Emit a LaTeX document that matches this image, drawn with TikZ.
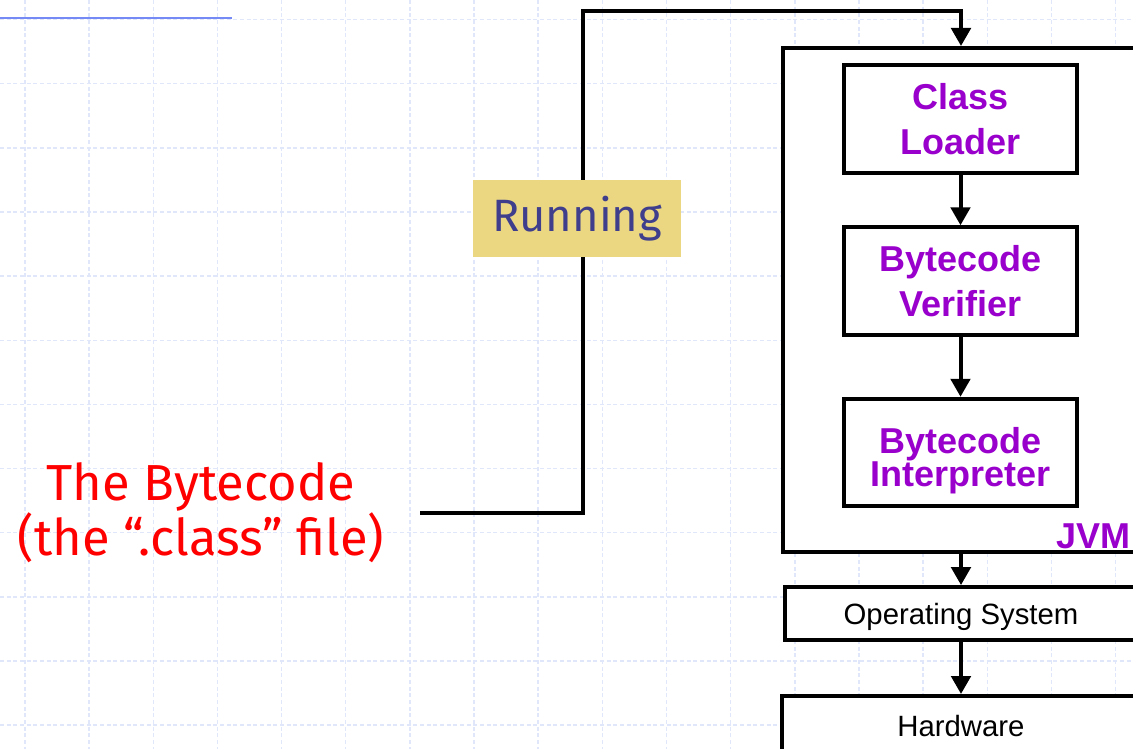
\documentclass[tikz,border=0pt]{standalone}
\usepackage{fontspec}
\setmainfont{Liberation Sans}
\newfontfamily\handfont{Fira Sans}
\usetikzlibrary{arrows.meta,positioning}
\definecolor{gridblue}{RGB}{225,231,250}
\definecolor{topblue}{RGB}{118,138,245}
\definecolor{jvmpurple}{RGB}{153,0,204}
\definecolor{runfill}{RGB}{235,215,130}
\definecolor{runtext}{RGB}{62,62,140}
\begin{document}
\begin{tikzpicture}[x=0.75pt,y=-0.75pt,
gridline/.style={gridblue, line width=1.1pt, dash pattern=on 3pt off 2pt},
layer/.style={draw, line width=3pt, fill=white, inner sep=0pt},
stagetext/.style={align=center, text=jvmpurple, font=\bfseries\fontsize{27}{34}\selectfont},
stagebox/.style={layer, stagetext, minimum width=174.75pt, minimum height=80.6pt},
osbox/.style={layer, minimum height=40pt, text depth=0pt, font=\fontsize{22}{26}\selectfont},
flow/.style={line width=3pt, -{Triangle[length=13.5pt,width=14.5pt]}}]

\useasboundingbox (0,0) rectangle (1133,749);
\clip (0,0) rectangle (1133,749);

% background grid
\foreach \gx in {0,...,17} \draw[gridline] (25+64.15*\gx,0) -- ++(0,749);
\foreach \gy in {0,...,11} \draw[gridline] (0,19.5+64.15*\gy) -- ++(1133,0);
\draw[topblue, line width=2pt] (0,18) -- (232,18);

% the machine
\node[layer, minimum width=267pt, minimum height=378pt] (jvm) at (961,300) {};
\node[stagebox] (loader) at (960.5,119) {Class\\Loader};
\node[stagebox] (verifier) at (960.5,281) {Bytecode\\Verifier};
\node[stagebox, label={[stagetext, font=\bfseries\fontsize{27}{25}\selectfont, yshift=-6]center:Bytecode\\Interpreter}] (interp) at (960.5,452.5) {};
\node[anchor=base east, inner sep=0pt, stagetext] (jvmlabel) at ([shift={(-10,-6)}]jvm.south east) {JVM};

\node[osbox, minimum width=264pt] (os) at (961,613.75) {Operating System};
\node[osbox, minimum width=268.5pt, minimum height=45pt] (hw) at (961,726) {Hardware};

\draw[flow] (loader) -- (verifier);
\draw[flow] (verifier) -- (interp);
\draw[flow] (jvm.south) -- (os);
\draw[flow] (os) -- (hw);

% the class file going in
\node[text=red, align=center, font=\handfont\fontsize{38}{41}\selectfont] (bytecode) at (201,513) {The Bytecode\\(the “.class” file)};
\coordinate (src) at (420,513);
\coordinate (bend) at (583,11.3);
\draw[flow] (src) -| (bend) -| (jvm.north);

\node[fill=runfill, text=runtext, minimum width=156pt, minimum height=57.75pt, font=\handfont\fontsize{34}{40}\selectfont] (running) at (577,218.5) {Running};
\end{tikzpicture}
\end{document}
